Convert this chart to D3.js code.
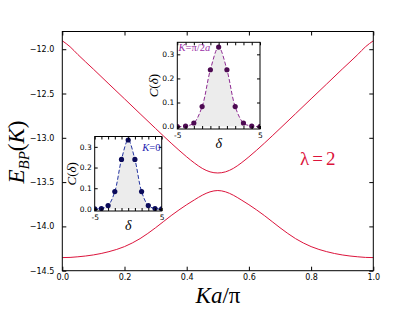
<!DOCTYPE html>
<html><head><meta charset="utf-8">
<script src="https://cdn.jsdelivr.net/npm/d3@7"></script>
<style>body{margin:0;background:#fff}svg{display:block}</style>
</head><body>
<svg id="c" width="415" height="312"></svg>
<script>
// ---- data ----
const kValues = [0, 0.025, 0.05, 0.1, 0.15, 0.2, 0.25, 0.3, 0.35, 0.4, 0.425, 0.45, 0.475, 0.5,
                 0.525, 0.55, 0.575, 0.6, 0.65, 0.7, 0.75, 0.8, 0.85, 0.9, 0.95, 0.975, 1.0];
const upperBand = [-11.905, -11.972, -12.06, -12.225, -12.393, -12.56, -12.728, -12.895, -13.06, -13.215, -13.285, -13.345, -13.384, -13.397,
                   -13.384, -13.345, -13.285, -13.215, -13.06, -12.895, -12.728, -12.56, -12.393, -12.225, -12.06, -11.972, -11.905];
const lowerBand = [-14.352, -14.350, -14.343, -14.322, -14.285, -14.228, -14.138, -14.015, -13.878, -13.755, -13.700, -13.648, -13.610, -13.595,
                   -13.610, -13.648, -13.700, -13.755, -13.878, -14.015, -14.138, -14.228, -14.285, -14.322, -14.343, -14.350, -14.352];
const xTicks = [0, 0.2, 0.4, 0.6, 0.8, 1.0];
const yTicks = [-12.0, -12.5, -13.0, -13.5, -14.0, -14.5];

const deltas = [-5, -4, -3, -2, -1, 0, 1, 2, 3, 4, 5];
const corrK0 = [0.000, 0.002, 0.016, 0.084, 0.239, 0.333, 0.239, 0.084, 0.016, 0.002, 0.000];
const corrKhalf = [0.000, 0.002, 0.015, 0.083, 0.236, 0.330, 0.236, 0.083, 0.015, 0.002, 0.000];
const insetYTicks = [0.0, 0.1, 0.2, 0.3];
const insetXLabels = [-5, 5];

// ---- layout ----
const svg = d3.select("#c");
const L = 62.3, R = 373.3, T = 31.5, B = 270.7;
const x = d3.scaleLinear().domain([0, 1]).range([L, R]);
const y = d3.scaleLinear().domain([-14.5, -11.8]).range([B, T]);
const red = "#dc143c";
const tickFont = "'DejaVu Sans', sans-serif";
const mathFont = "'Liberation Serif', 'DejaVu Serif', serif";

// curves
const line = d3.line().x((d, i) => x(kValues[i])).y(d => y(d)).curve(d3.curveMonotoneX);
svg.append("path").attr("d", line(upperBand)).attr("fill", "none").attr("stroke", red).attr("stroke-width", 1);
svg.append("path").attr("d", line(lowerBand)).attr("fill", "none").attr("stroke", red).attr("stroke-width", 1);

// axes (ticks inward, all sides)
const ax = svg.append("g").attr("font-family", tickFont).attr("font-size", 8);
const xb = d3.axisBottom(x).tickValues(xTicks).tickFormat(d3.format(".1f")).tickSizeInner(-4).tickSizeOuter(0).tickPadding(4);
const xt = d3.axisTop(x).tickValues(xTicks).tickFormat("").tickSizeInner(-4).tickSizeOuter(0);
const yl = d3.axisLeft(y).tickValues(yTicks).tickFormat(d => d3.format(".1f")(d).replace("-", "\u2212")).tickSizeInner(-4).tickSizeOuter(0).tickPadding(8);
const yr = d3.axisRight(y).tickValues(yTicks).tickFormat("").tickSizeInner(-4).tickSizeOuter(0);
ax.append("g").attr("transform", `translate(0,${B})`).call(xb);
ax.append("g").attr("transform", `translate(0,${T})`).call(xt);
ax.append("g").attr("transform", `translate(${L},0)`).call(yl);
ax.append("g").attr("transform", `translate(${R},0)`).call(yr);
ax.selectAll(".domain").remove();
ax.selectAll("text").attr("fill", "#000").attr("font-family", tickFont).attr("font-size", 8);
svg.append("rect").attr("x", L).attr("y", T).attr("width", R - L).attr("height", B - T)
  .attr("fill", "none").attr("stroke", "#000").attr("stroke-width", 1);

// axis labels
const ylab = svg.append("text").attr("transform", "translate(24,152) rotate(-90)")
  .attr("text-anchor", "middle").attr("font-family", mathFont).attr("font-size", 23);
ylab.append("tspan").attr("font-style", "italic").text("E");
ylab.append("tspan").attr("font-style", "italic").attr("font-size", 15).attr("dy", 5).text("BP");
ylab.append("tspan").attr("dy", -5).text("(");
ylab.append("tspan").attr("font-style", "italic").text("K");
ylab.append("tspan").text(")");

const xlab = svg.append("text").attr("x", 218).attr("y", 303).attr("text-anchor", "middle")
  .attr("font-family", mathFont).attr("font-size", 23);
xlab.append("tspan").attr("font-style", "italic").text("Ka");
xlab.append("tspan").text("/\u03c0");

const lam = svg.append("text").attr("x", 300).attr("y", 165).attr("font-family", mathFont)
  .attr("font-size", 19).attr("fill", red);
lam.append("tspan").text("\u03bb");
lam.append("tspan").attr("dx", 3).text("=");
lam.append("tspan").attr("dx", 3).text("2");

// ---- insets ----
function inset(id, x0, x1, y0, y1, vals, cLine, cDot, cText, label, labelAttrs) {
  const g = svg.append("g");
  const sx = d3.scaleLinear().domain([-5, 5]).range([x0, x1]);
  const sy = d3.scaleLinear().domain([-0.01, 0.35]).range([y1, y0]);
  g.append("rect").attr("x", x0).attr("y", y0).attr("width", x1 - x0).attr("height", y1 - y0).attr("fill", "#fff");
  g.append("clipPath").attr("id", id).append("rect").attr("x", x0).attr("y", y0).attr("width", x1 - x0).attr("height", y1 - y0);
  const pg = g.append("g").attr("clip-path", `url(#${id})`);
  const area = d3.area().x((d, i) => sx(deltas[i])).y0(sy(0)).y1(d => sy(d)).curve(d3.curveCatmullRom);
  const ln = d3.line().x((d, i) => sx(deltas[i])).y(d => sy(d)).curve(d3.curveCatmullRom);
  pg.append("path").attr("d", area(vals)).attr("fill", "#ececec");
  pg.append("path").attr("d", ln(vals)).attr("fill", "none").attr("stroke", cLine).attr("stroke-width", 1).attr("stroke-dasharray", "4,2");
  pg.selectAll("circle").data(vals).join("circle").attr("cx", (d, i) => sx(deltas[i])).attr("cy", d => sy(d))
    .attr("r", 2.6).attr("fill", cDot);
  const a = g.append("g").attr("font-family", tickFont).attr("font-size", 7.5);
  a.append("g").attr("transform", `translate(0,${y1})`)
    .call(d3.axisBottom(sx).tickValues(deltas).tickFormat(d => insetXLabels.includes(d) ? String(d) : "").tickSizeInner(-3).tickSizeOuter(0).tickPadding(4));
  a.append("g").attr("transform", `translate(0,${y0})`)
    .call(d3.axisTop(sx).tickValues(deltas).tickFormat("").tickSizeInner(-3).tickSizeOuter(0));
  a.append("g").attr("transform", `translate(${x0},0)`)
    .call(d3.axisLeft(sy).tickValues(insetYTicks).tickFormat(d3.format(".1f")).tickSizeInner(-3).tickSizeOuter(0).tickPadding(3));
  a.append("g").attr("transform", `translate(${x1},0)`)
    .call(d3.axisRight(sy).tickValues(insetYTicks).tickFormat("").tickSizeInner(-3).tickSizeOuter(0));
  a.selectAll(".domain").remove();
  a.selectAll("text").attr("fill", "#000").attr("font-family", tickFont).attr("font-size", 7.5);
  g.append("rect").attr("x", x0).attr("y", y0).attr("width", x1 - x0).attr("height", y1 - y0)
    .attr("fill", "none").attr("stroke", "#000").attr("stroke-width", 1);
  // labels
  const cl = g.append("text").attr("transform", `translate(${x0 - 19},${(y0 + y1) / 2}) rotate(-90)`)
    .attr("text-anchor", "middle").attr("font-family", mathFont).attr("font-size", 13);
  cl.append("tspan").attr("font-style", "italic").text("C");
  cl.append("tspan").text("(");
  cl.append("tspan").attr("font-style", "italic").text("\u03b4");
  cl.append("tspan").text(")");
  g.append("text").attr("x", (x0 + x1) / 2).attr("y", y1 + 18.5).attr("text-anchor", "middle")
    .attr("font-family", mathFont).attr("font-style", "italic").attr("font-size", 14).text("\u03b4");
  const t = g.append("text").attr("x", labelAttrs.x).attr("y", labelAttrs.y).attr("text-anchor", labelAttrs.anchor)
    .attr("font-family", mathFont).attr("font-size", 10.5).attr("fill", cText);
  label.forEach(p => t.append("tspan").attr("font-style", p[1] ? "italic" : "normal").text(p[0]));
}

inset("clipA", 177.3, 260, 42.3, 129, corrKhalf, "#8e2a92", "#4d0a52", "#9a2ea6",
      [["K", true], ["=", false], ["\u03c0/2", false], ["a", true]], {x: 178.5, y: 51, anchor: "start"});
inset("clipB", 94.7, 161.7, 136.5, 211, corrK0, "#2233a0", "#0b0b5a", "#1a1ab0",
      [["K", true], ["=", false], ["0", false]], {x: 160.5, y: 151, anchor: "end"});
</script>
</body></html>
